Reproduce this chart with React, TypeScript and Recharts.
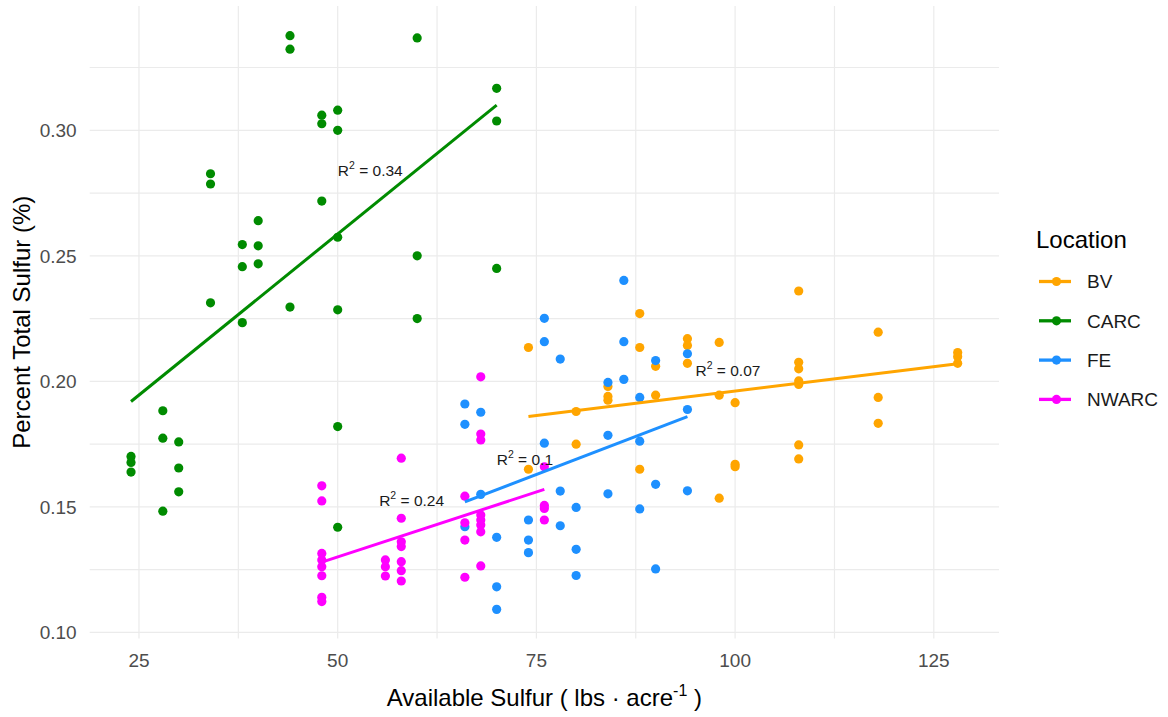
import React from "react";
import { ScatterChart, Scatter, XAxis, YAxis, CartesianGrid } from "recharts";

const FONT = "'Liberation Sans', Arial, Helvetica, sans-serif";

const locations = ["BV", "CARC", "FE", "NWARC"];
const colors: Record<string, string> = {
  BV: "#FFA500",
  CARC: "#008B00",
  FE: "#1E90FF",
  NWARC: "#FF00FF",
};

const xTicks = [25, 50, 75, 100, 125];
const yTicks = [0.1, 0.15, 0.2, 0.25, 0.3];
const xGrid = [25, 37.5, 50, 62.5, 75, 87.5, 100, 112.5, 125];
const yGrid = [0.1, 0.125, 0.15, 0.175, 0.2, 0.225, 0.25, 0.275, 0.3, 0.325];

// available sulfur -> percent total sulfur readings
const bvValues: [number, number[]][] = [
  [74, [0.2135, 0.165]],
  [80, [0.188, 0.175]],
  [84, [0.198, 0.194, 0.1925]],
  [88, [0.227, 0.2135, 0.165]],
  [90, [0.206, 0.1945]],
  [94, [0.217, 0.2143, 0.2072]],
  [98, [0.2155, 0.1945, 0.1535]],
  [100, [0.1915, 0.167, 0.166]],
  [108, [0.236, 0.2076, 0.205, 0.2002, 0.1988, 0.1747, 0.1691]],
  [118, [0.2196, 0.1936, 0.1833]],
  [128, [0.2115, 0.2098, 0.2072]],
];

const carcValues: [number, number[]][] = [
  [24, [0.1701, 0.1677, 0.1639]],
  [28, [0.1883, 0.1774, 0.1483]],
  [30, [0.1759, 0.1655, 0.156]],
  [34, [0.2827, 0.2786, 0.2313]],
  [38, [0.2545, 0.2457, 0.2234]],
  [40, [0.264, 0.254, 0.2468]],
  [44, [0.3377, 0.3323, 0.2296]],
  [48, [0.306, 0.3026, 0.2718]],
  [50, [0.308, 0.3, 0.2574, 0.2285, 0.182, 0.1419]],
  [60, [0.3368, 0.25, 0.225]],
  [70, [0.3167, 0.3037, 0.245]],
];

const feValues: [number, number[]][] = [
  [66, [0.191, 0.1829, 0.1421]],
  [68, [0.1877, 0.155]],
  [70, [0.1379, 0.1182, 0.1092]],
  [74, [0.1448, 0.1368, 0.1318]],
  [76, [0.2251, 0.2158, 0.1754]],
  [78, [0.2089, 0.1563, 0.1425]],
  [80, [0.1498, 0.1331, 0.1227]],
  [84, [0.1996, 0.1785, 0.1552]],
  [86, [0.2402, 0.2158, 0.2008]],
  [88, [0.1936, 0.1762, 0.1492]],
  [90, [0.2083, 0.159, 0.1253]],
  [94, [0.211, 0.1888, 0.1564]],
];

const nwarcValues: [number, number[]][] = [
  [48, [0.1584, 0.1524, 0.1315, 0.1289, 0.1262, 0.1226, 0.114, 0.1123]],
  [56, [0.1289, 0.1262, 0.1225]],
  [58, [0.1694, 0.1455, 0.1361, 0.1342, 0.1282, 0.1246, 0.1205]],
  [66, [0.1543, 0.1437, 0.1368, 0.122]],
  [68, [0.2018, 0.179, 0.1767, 0.1468, 0.1448, 0.1428, 0.1401, 0.1265]],
  [76, [0.166, 0.1506, 0.1494, 0.1448]],
];

// fitted lines (ends)
const bvFit: [number, number][] = [[74, 0.186], [128, 0.207]];
const carcFit: [number, number][] = [[24, 0.192], [70, 0.31]];
const feFit: [number, number][] = [[66, 0.152], [94, 0.186]];
const nwarcFit: [number, number][] = [[48, 0.128], [76, 0.157]];

const r2Labels = [
  { x: 54.1, y: 0.2841, r2: "0.34" },
  { x: 59.3, y: 0.1525, r2: "0.24" },
  { x: 73.55, y: 0.1691, r2: "0.1" },
  { x: 99.1, y: 0.2044, r2: "0.07" },
];

const flatten = (groups: [number, number[]][]) =>
  groups.flatMap(([x, ys]) => ys.map((y) => ({ x, y })));
const toPoints = (pairs: [number, number][]) => pairs.map(([x, y]) => ({ x, y }));

const pointsBy: Record<string, { x: number; y: number }[]> = {
  BV: flatten(bvValues),
  CARC: flatten(carcValues),
  FE: flatten(feValues),
  NWARC: flatten(nwarcValues),
};
const fitsBy: Record<string, { x: number; y: number }[]> = {
  BV: toPoints(bvFit),
  CARC: toPoints(carcFit),
  FE: toPoints(feFit),
  NWARC: toPoints(nwarcFit),
};

const dot = (color: string) => (p: any) => <circle cx={p.cx} cy={p.cy} r={4.6} fill={color} />;
const noDot = () => <g />;

const r2Shape = (p: any) => {
  const d = p.payload || {};
  return (
    <text x={p.cx} y={p.cy} dy="0.36em" textAnchor="middle" fontSize={15.5} fill="#1A1A1A" fontFamily={FONT}>
      R
      <tspan fontSize={10.5} dy={-7}>2</tspan>
      <tspan dy={7}> = {d.r2}</tspan>
    </text>
  );
};

const XTitle = (props: any) => {
  const vb = props.viewBox;
  return (
    <text x={vb.x + vb.width / 2} y={vb.y + 67} textAnchor="middle" fontSize={24} fill="#000" fontFamily={FONT}>
      Available Sulfur ( lbs · acre
      <tspan fontSize={16} dy={-10}>-1</tspan>
      <tspan dy={10}> )</tspan>
    </text>
  );
};

const YTitle = (props: any) => {
  const vb = props.viewBox;
  const cy = vb.y + vb.height / 2;
  return (
    <text x={30} y={cy} transform={`rotate(-90, 30, ${cy})`} textAnchor="middle" fontSize={24} fill="#000" fontFamily={FONT}>
      Percent Total Sulfur (%)
    </text>
  );
};

const LegendBox = () => (
  <svg width={138} height={200} style={{ position: "absolute", left: 1030, top: 215 }}>
    <text x={6} y={33} fontSize={24} fill="#000" fontFamily={FONT}>Location</text>
    {locations.map((loc, i) => {
      const y = 66.5 + i * 39.3;
      return (
        <g key={loc}>
          <line x1={9} x2={41} y1={y} y2={y} stroke={colors[loc]} strokeWidth={3.3} />
          <circle cx={26.5} cy={y} r={4.6} fill={colors[loc]} />
          <text x={57} y={y} dy="0.36em" fontSize={19} fill="#1A1A1A" fontFamily={FONT}>{loc}</text>
        </g>
      );
    })}
  </svg>
);

export default function App() {
  return (
    <div style={{ position: "absolute", left: 0, top: 0, width: 1168, height: 717, background: "#fff" }}>
      <ScatterChart width={1168} height={717} margin={{ top: 6, right: 169, bottom: 18.5, left: 0 }}>
        <CartesianGrid stroke="#EBEBEB" strokeWidth={1.2} horizontalValues={yGrid} verticalValues={xGrid} />
        <XAxis
          type="number"
          dataKey="x"
          domain={[18.8, 133.2]}
          allowDataOverflow
          ticks={xTicks}
          axisLine={false}
          tickLine={false}
          tickMargin={9}
          height={60}
          tick={{ fontSize: 19, fill: "#4D4D4D", fontFamily: FONT }}
          label={XTitle}
        />
        <YAxis
          type="number"
          dataKey="y"
          domain={[0.0976, 0.3495]}
          allowDataOverflow
          ticks={yTicks}
          axisLine={false}
          tickLine={false}
          tickMargin={7}
          width={89.7}
          tick={{ fontSize: 19, fill: "#4D4D4D", fontFamily: FONT }}
          tickFormatter={(v: number) => v.toFixed(2)}
          label={YTitle}
        />
        {locations.map((loc) => (
          <Scatter key={loc} name={loc} data={pointsBy[loc]} shape={dot(colors[loc])} isAnimationActive={false} />
        ))}
        {locations.map((loc) => (
          <Scatter
            key={loc + "-fit"}
            data={fitsBy[loc]}
            line={{ stroke: colors[loc], strokeWidth: 3 }}
            shape={noDot}
            isAnimationActive={false}
          />
        ))}
        <Scatter data={r2Labels} shape={r2Shape} isAnimationActive={false} />
      </ScatterChart>
      <LegendBox />
    </div>
  );
}
